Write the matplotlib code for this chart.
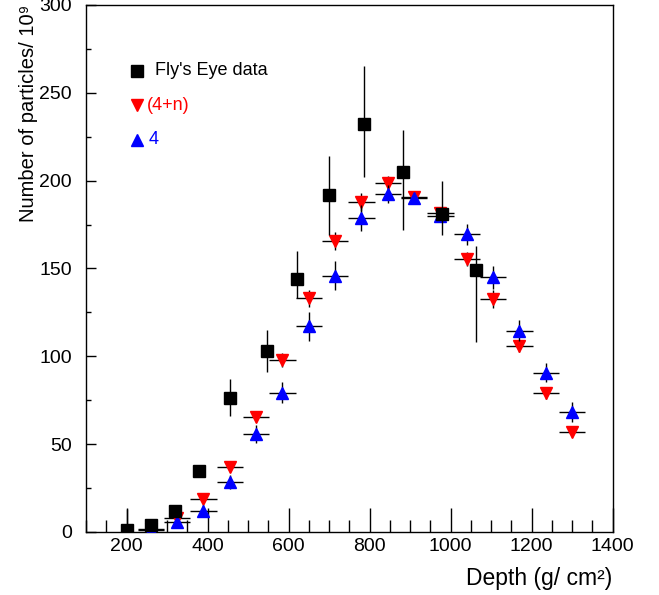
import numpy as np
import matplotlib.pyplot as plt
from matplotlib.ticker import MultipleLocator

plt.rcParams['font.family'] = ['Liberation Sans', 'DejaVu Sans']

# Fly's Eye data
fe_x = [200, 260, 320, 380, 456, 548, 621, 700, 785, 882, 978, 1062]
fe_y = [1, 4, 12, 35, 76, 103, 144, 192, 232, 205, 181, 149]
fe_up = [12, 1, 2, 2, 11, 12, 16, 22, 33, 24, 19, 14]
fe_lo = [1, 1, 2, 2, 10, 12, 11, 23, 30, 33, 12, 41]

# model bins
bx = [260, 325, 390, 455, 520, 585, 650, 715, 780, 845, 910, 975, 1040, 1105, 1170, 1235, 1300]
half_bin = 32.5
red_y = [1.5, 8, 18.6, 36.8, 65.6, 97.9, 133, 165.6, 187.8, 198.8, 190.8, 181.4, 155.2, 132.6, 105.9, 78.9, 56.7]
red_err = [0.5, 1.5, 2, 2.5, 3, 4, 5, 5, 5, 4, 3, 3, 4, 5, 3.4, 3, 2.5]
blue_y = [1, 5.5, 12.1, 28.3, 55.8, 79.3, 117, 146, 178.5, 192.4, 190, 180, 169.4, 145, 114.6, 90.7, 68.3]
blue_err = [0.5, 2, 3, 4, 5, 6, 8, 8, 7.4, 5, 3, 3, 6, 6.5, 6, 5.5, 5.7]

fig = plt.figure(figsize=(6.59, 5.95), dpi=100)
ax = fig.add_axes([0.1305, 0.1059, 0.7992, 0.8857])

ax.errorbar(bx, red_y, xerr=half_bin, yerr=red_err, fmt='v', color='red',
            ms=8, mec='red', ecolor='black', elinewidth=1, capsize=0, zorder=3)
ax.errorbar(bx, blue_y, xerr=half_bin, yerr=blue_err, fmt='^', color='blue',
            ms=8, mec='blue', ecolor='black', elinewidth=1, capsize=0, zorder=4)
ax.errorbar(fe_x, fe_y, yerr=[fe_lo, fe_up], fmt='s', color='black',
            ms=8, ecolor='black', elinewidth=1, capsize=0, zorder=5)

ax.set_xlim(100, 1400)
ax.set_ylim(0, 300)
ax.xaxis.set_major_locator(MultipleLocator(200))
ax.xaxis.set_minor_locator(MultipleLocator(50))
ax.yaxis.set_major_locator(MultipleLocator(50))
ax.yaxis.set_minor_locator(MultipleLocator(25))
ax.tick_params(axis='x', which='major', direction='in', length=17, width=1, pad=4, labelsize=14)
ax.tick_params(axis='x', which='minor', direction='in', length=8.5, width=1)
ax.tick_params(axis='y', which='major', direction='in', length=7, width=1, pad=10, labelsize=14)
ax.tick_params(axis='y', which='minor', direction='in', length=3.5, width=1)
for s in ax.spines.values():
    s.set_linewidth(1)

ax.set_xlabel('Depth (g/ cm²)', loc='right', fontsize=16.5, labelpad=9)
ax.set_ylabel('Number of particles/ 10⁹', loc='top', fontsize=14.5, labelpad=1)

# legend drawn by hand
tr = ax.transAxes
ax.plot([0.097], [0.875], 's', color='black', ms=8, transform=tr)
ax.text(0.131, 0.875, "Fly's Eye data", transform=tr, va='center', fontsize=13)
ax.plot([0.097], [0.810], 'v', color='red', ms=8, transform=tr)
ax.text(0.115, 0.810, "(4+n)", transform=tr, va='center', fontsize=13, color='red')
ax.plot([0.097], [0.744], '^', color='blue', ms=8, transform=tr)
ax.text(0.118, 0.744, "4", transform=tr, va='center', fontsize=13, color='blue')

fig.savefig('out.png', dpi=100)
